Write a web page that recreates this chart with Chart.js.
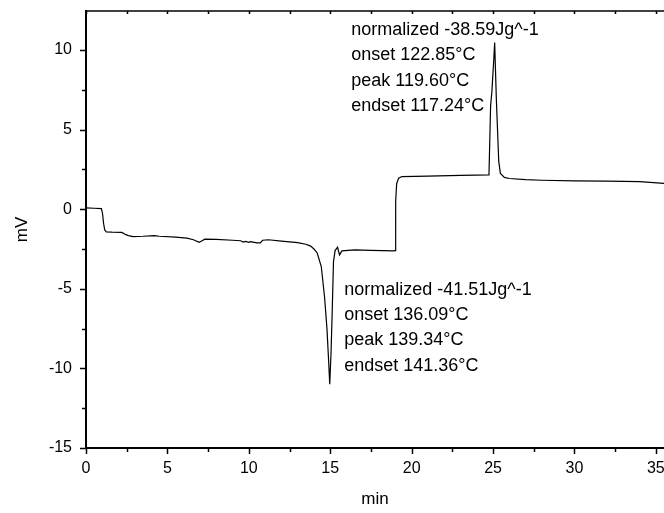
<!DOCTYPE html>
<html>
<head>
<meta charset="utf-8">
<script src="https://cdn.jsdelivr.net/npm/chart.js@4/dist/chart.umd.min.js"></script>
<style>
body{margin:0;background:#fff;}
canvas{display:block;}
</style>
</head>
<body>
<canvas id="myChart" width="664" height="513"></canvas>
<script>
// DSC trace, time in min, signal in mV
var timeMin=[0,0.5,0.95,1.02,1.08,1.15,1.25,1.6,2.2,2.45,2.6,2.9,3.5,4.2,4.5,5.5,6.2,6.6,6.95,7.1,7.3,8,9,9.5,9.65,9.8,10,10.1,10.5,10.7,10.85,11.2,12,13,13.5,13.8,14,14.2,14.45,14.65,14.8,14.9,14.97,15.05,15.12,15.2,15.3,15.45,15.57,15.72,16.5,17.5,18.9,18.98,19.02,19.08,19.2,19.4,21,23,24.75,24.85,24.93,25.05,25.1,25.2,25.35,25.45,25.7,26,27,28,30,32,34,35.6];
var signal=[0.08,0.06,0.04,-0.3,-0.9,-1.3,-1.42,-1.44,-1.46,-1.6,-1.66,-1.72,-1.7,-1.66,-1.7,-1.76,-1.82,-1.92,-2.08,-2,-1.88,-1.9,-1.95,-1.98,-2.06,-2.02,-2.08,-2.04,-2.12,-2.12,-1.95,-1.92,-2,-2.1,-2.2,-2.32,-2.5,-2.75,-3.6,-5.5,-7.5,-9.5,-11,-9,-6.5,-3.3,-2.6,-2.38,-2.87,-2.62,-2.56,-2.58,-2.62,-2.6,0.5,1.6,1.95,2.05,2.08,2.12,2.15,6.5,7.4,9.5,10.47,7,3,2.25,2,1.93,1.86,1.82,1.78,1.76,1.73,1.62];

var xMajor=[0,5,10,15,20,25,30,35];
var xMinor=[2.5,7.5,12.5,17.5,22.5,27.5,32.5];
var yMajor=[-15,-10,-5,0,5,10];
var yMinor=[-12.5,-7.5,-2.5,2.5,7.5];

var noteUp=["normalized -38.59Jg^-1","onset 122.85\u00B0C","peak 119.60\u00B0C","endset 117.24\u00B0C"];
var noteDown=["normalized -41.51Jg^-1","onset 136.09\u00B0C","peak 139.34\u00B0C","endset 141.36\u00B0C"];

var points=[];
for(var i=0;i<timeMin.length;i++){
  points.push({x:timeMin[i],y:signal[i]});
}

Chart.defaults.font.family='"Liberation Sans", Arial, sans-serif';
Chart.defaults.color='#000';

function tickList(major,minor){
  return major.concat(minor).sort(function(a,b){return a-b;}).map(function(v){return {value:v};});
}

var extras={
  id:'extras',
  afterDraw:function(chart){
    var ctx=chart.ctx, a=chart.chartArea, xs=chart.scales.x, ys=chart.scales.y;
    ctx.save();
    ctx.strokeStyle='#000';
    ctx.lineWidth=1.5;
    ctx.beginPath();
    ctx.moveTo(a.left,a.top);
    ctx.lineTo(a.right+2,a.top);
    ctx.stroke();

    ctx.beginPath();
    xMajor.concat(xMinor).forEach(function(v){
      var px=Math.round(xs.getPixelForValue(v))+0.5;
      var len=xMajor.indexOf(v)>=0?6:4;
      ctx.moveTo(px,a.bottom);
      ctx.lineTo(px,a.bottom+len);
      ctx.moveTo(px,a.top);
      ctx.lineTo(px,a.top+3);
    });
    yMajor.concat(yMinor).forEach(function(v){
      var py=Math.round(ys.getPixelForValue(v))+0.5;
      var len=yMajor.indexOf(v)>=0?6:4;
      ctx.moveTo(a.left,py);
      ctx.lineTo(a.left-len,py);
    });
    ctx.stroke();

    ctx.fillStyle='#000';
    ctx.font='18px "Liberation Sans", Arial, sans-serif';
    ctx.textBaseline='middle';
    ctx.textAlign='left';
    var x1=xs.getPixelForValue(16.29), y1=ys.getPixelForValue(11.26);
    noteUp.forEach(function(t,k){ ctx.fillText(t,x1,y1+k*25.3); });
    var x2=xs.getPixelForValue(15.86), y2=ys.getPixelForValue(-5.07);
    noteDown.forEach(function(t,k){ ctx.fillText(t,x2,y2+k*25.3); });
    ctx.restore();
  }
};

var ctx=document.getElementById("myChart");
var myChart=new Chart(ctx,{
  type:'line',
  data:{
    datasets:[{
      data:points,
      borderColor:'#000',
      borderWidth:1.2,
      pointRadius:0,
      tension:0,
      fill:false
    }]
  },
  options:{
    responsive:false,
    animation:false,
    layout:{padding:{top:11,left:0,right:0,bottom:0}},
    plugins:{legend:{display:false},tooltip:{enabled:false}},
    scales:{
      x:{
        type:'linear',
        min:0,
        max:35.5,
        afterBuildTicks:function(s){ s.ticks=tickList(xMajor,xMinor); },
        afterFit:function(s){ s.height=65; s.paddingLeft=0; s.paddingRight=0; },
        grid:{display:true,drawOnChartArea:false,drawTicks:false},
        border:{display:true,color:'#000',width:2},
        ticks:{
          autoSkip:false,
          maxRotation:0,
          padding:11,
          font:{size:16},
          callback:function(v){ return xMajor.indexOf(v)>=0?String(v):null; }
        },
        title:{display:true,text:'min',font:{size:17},padding:{top:0,bottom:3}}
      },
      y:{
        type:'linear',
        min:-15,
        max:12.45,
        afterBuildTicks:function(s){ s.ticks=tickList(yMajor,yMinor); },
        afterFit:function(s){ s.width=86; s.paddingTop=0; s.paddingBottom=0; },
        grid:{display:true,drawOnChartArea:false,drawTicks:false},
        border:{display:true,color:'#000',width:2},
        ticks:{
          autoSkip:false,
          padding:14,
          font:{size:16},
          callback:function(v){ return yMajor.indexOf(v)>=0?String(v):null; }
        },
        title:{display:true,text:'mV',font:{size:17},padding:{top:12,bottom:0}}
      }
    }
  },
  plugins:[extras]
});
</script>
</body>
</html>
